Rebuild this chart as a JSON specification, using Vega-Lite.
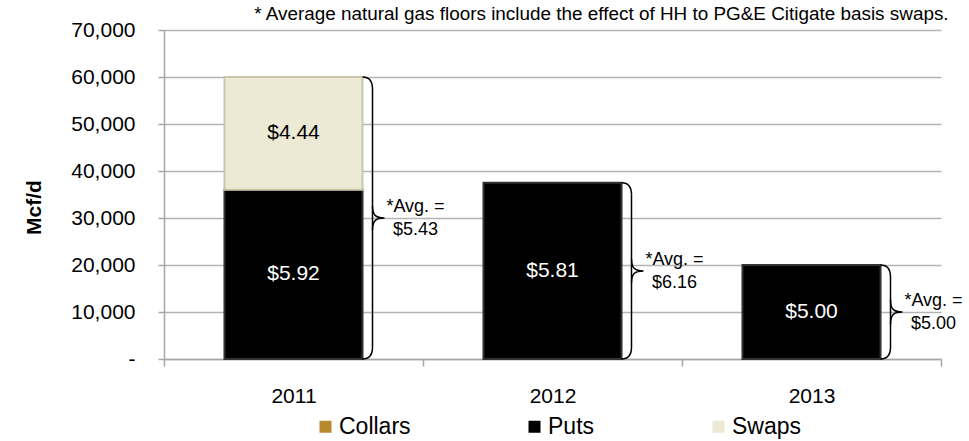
{
  "$schema": "https://vega.github.io/schema/vega-lite/v6.json",
  "width": 777,
  "height": 329,
  "autosize": {"type": "none"},
  "padding": {"left": 164, "top": 30, "right": 28, "bottom": 82},
  "background": "white",
  "config": {"font": "Liberation Sans", "view": {"stroke": null}},
  "title": {
    "text": "* Average natural gas floors include the effect of HH to PG&E Citigate basis swaps.",
    "anchor": "end", "fontSize": 18.9, "fontWeight": "normal", "color": "#000", "offset": -5, "dx": -14
  },
  "datasets": {
    "bars": [
      {"year": "2011", "series": "Puts", "volume": 36000, "price": "$5.92"},
      {"year": "2011", "series": "Swaps", "volume": 24000, "price": "$4.44"},
      {"year": "2012", "series": "Puts", "volume": 37500, "price": "$5.81"},
      {"year": "2013", "series": "Puts", "volume": 20000, "price": "$5.00"}
    ],
    "avg": [
      {"year": "2011", "total": 60000, "avg": "$5.43"},
      {"year": "2012", "total": 37500, "avg": "$6.16"},
      {"year": "2013", "total": 20000, "avg": "$5.00"}
    ]
  },
  "encoding": {
    "x": {
      "field": "year", "type": "nominal",
      "scale": {"paddingInner": 0, "paddingOuter": 0},
      "axis": {
        "title": null, "labelAngle": 0, "labelFontSize": 21, "labelColor": "#000", "labelPadding": 19,
        "tickBand": "extent", "tickSize": 7, "tickColor": "#A6A6A6", "tickWidth": 1.5,
        "domainColor": "#A6A6A6", "domainWidth": 1.5, "grid": false
      }
    }
  },
  "layer": [
    {
      "data": {"name": "bars"},
      "mark": {"type": "bar", "width": {"band": 0.533}, "strokeWidth": 2},
      "encoding": {
        "y": {
          "field": "volume", "type": "quantitative", "stack": "zero",
          "scale": {"domain": [0, 70000], "nice": false},
          "axis": {
            "title": "Mcf/d", "titleFontSize": 21, "titleFontWeight": "bold", "titleColor": "#000", "titlePadding": 26, "titleY": 177,
            "values": [0, 10000, 20000, 30000, 40000, 50000, 60000, 70000],
            "labelExpr": "datum.value === 0 ? '-\u00a0\u00a0' : format(datum.value, ',')",
            "labelFontSize": 21, "labelColor": "#000", "labelPadding": 23,
            "tickSize": 6, "tickColor": "#A6A6A6", "tickWidth": 1.5,
            "grid": true, "gridColor": "#B4B4B4", "gridWidth": 1.5,
            "domainColor": "#A6A6A6", "domainWidth": 1.5
          }
        },
        "color": {
          "field": "series", "type": "nominal",
          "scale": {"domain": ["Collars", "Puts", "Swaps"], "range": ["#B8892C", "#000000", "#ECE9D5"]},
          "legend": {
            "title": null, "orient": "none", "legendX": 150, "legendY": 385, "direction": "horizontal",
            "symbolType": "square", "symbolSize": 144, "symbolStrokeWidth": 0, "symbolOpacity": 1,
            "labelFontSize": 23, "labelColor": "#000", "labelOffset": 2, "columnPadding": 112, "padding": 0
          }
        },
        "stroke": {"condition": {"test": "datum.series === 'Swaps'", "value": "#CBC7A9"}, "value": "#333333"},
        "order": {"field": "series", "sort": "ascending"}
      }
    },
    {
      "data": {"name": "bars"},
      "mark": {"type": "text", "fontSize": 21},
      "encoding": {
        "y": {"field": "volume", "type": "quantitative", "stack": "zero", "bandPosition": 0.5},
        "detail": {"field": "series"},
        "order": {"field": "series", "sort": "ascending"},
        "text": {"field": "price"},
        "color": {"condition": {"test": "datum.series === 'Puts'", "value": "#FFFFFF"}, "value": "#000000"}
      }
    },
    {
      "data": {"name": "avg"},
      "mark": {"type": "rule", "xOffset": 79, "yOffset": 12, "y2Offset": -12, "color": "#000", "strokeWidth": 1.5},
      "encoding": {
        "y": {"field": "total", "type": "quantitative"},
        "y2": {"datum": 0}
      }
    },
    {
      "data": {"name": "avg"},
      "mark": {"type": "point", "shape": "M -2 0 C -0.8 0 0 0.6 0 2.4", "filled": false, "size": 100, "opacity": 1, "color": "#000", "strokeWidth": 1.5, "xOffset": 79},
      "encoding": {
        "y": {"field": "total", "type": "quantitative"}
      }
    },
    {
      "data": {"name": "avg"},
      "mark": {"type": "point", "shape": "M 0 -2.4 C 0 -0.6 -0.8 0 -2 0", "filled": false, "size": 100, "opacity": 1, "color": "#000", "strokeWidth": 1.5, "xOffset": 79},
      "encoding": {
        "y": {"datum": 0, "type": "quantitative"}
      }
    },
    {
      "data": {"name": "avg"},
      "mark": {"type": "point", "shape": "M 0 -2.4 C 0 -0.6 0.6 0 2.4 0 C 0.6 0 0 0.6 0 2.4", "filled": false, "size": 100, "opacity": 1, "color": "#000", "strokeWidth": 1.5, "xOffset": 79},
      "encoding": {
        "y": {"field": "total", "type": "quantitative", "stack": "zero", "bandPosition": 0.5}
      }
    },
    {
      "data": {"name": "avg"},
      "mark": {"type": "text", "text": "*Avg. =", "fontSize": 18, "color": "#000", "align": "center", "xOffset": 122, "dy": -11},
      "encoding": {
        "y": {"field": "total", "type": "quantitative", "stack": "zero", "bandPosition": 0.5}
      }
    },
    {
      "data": {"name": "avg"},
      "mark": {"type": "text", "fontSize": 18, "color": "#000", "align": "center", "xOffset": 122, "dy": 12},
      "encoding": {
        "y": {"field": "total", "type": "quantitative", "stack": "zero", "bandPosition": 0.5},
        "text": {"field": "avg"}
      }
    }
  ]
}
